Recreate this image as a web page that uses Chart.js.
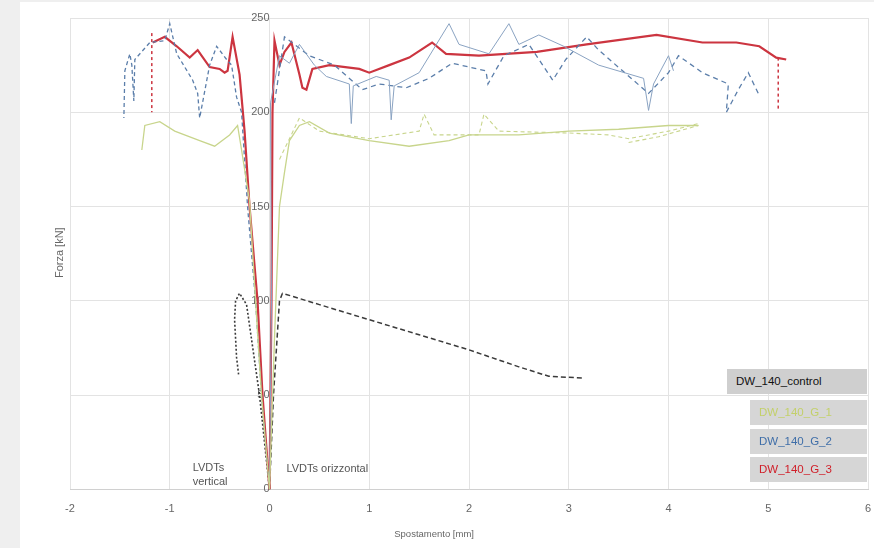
<!DOCTYPE html>
<html><head><meta charset="utf-8">
<script src="https://cdn.jsdelivr.net/npm/chart.js@4/dist/chart.umd.min.js"></script>
<style>
html,body{margin:0;padding:0;background:#efefef;width:874px;height:548px;overflow:hidden;font-family:"Liberation Sans",Arial,sans-serif}
#panel{position:absolute;left:20px;top:2px;width:854px;height:546px;background:#fff}
#c{position:absolute;left:0;top:0}
.lg{position:absolute;height:25px;line-height:25px;font-size:11.5px;background:#d6d6d6;padding-left:9px;box-sizing:border-box}
</style></head><body>
<div id="panel"></div>
<canvas id="c" width="874" height="548"></canvas>
<div class="lg" style="left:727px;top:369px;width:140px;color:#111;background:#cfcfcf">DW_140_control</div>
<div class="lg" style="left:750px;top:400px;width:117px;color:#c3d06a">DW_140_G_1</div>
<div class="lg" style="left:750px;top:429px;width:117px;color:#3f6ea8">DW_140_G_2</div>
<div class="lg" style="left:750px;top:457px;width:117px;color:#d0202a">DW_140_G_3</div>
<script>
// Tick values
const xTicks = [-2,-1,0,1,2,3,4,5,6];
const yTicks = [0,50,100,150,200,250];
const seriesNames = ['DW_140_control','DW_140_G_1','DW_140_G_2','DW_140_G_3'];
const xTitle = 'Spostamento [mm]';
const yTitle = 'Forza [kN]';

// DW_140_control (black) [displacement mm, force kN]
const controlRight = [[0,0],[0.04,50],[0.1,100],[0.13,104],[0.5,98],[1.0,90],[1.5,82],[2.0,74],[2.5,65],[2.8,60],[3.15,59]];
const controlLeft = [[0,0],[-0.1,50],[-0.23,98],[-0.3,104],[-0.34,100],[-0.35,90],[-0.33,70],[-0.31,61]];

// DW_140_G_1 (green)
const g1Right = [[0,0],[0.05,80],[0.1,150],[0.15,168],[0.2,185],[0.3,193],[0.4,195],[0.6,189],[1.0,185],[1.4,182],[1.8,185],[2.0,188],[2.5,188],[3.0,190],[3.5,191],[4.0,193],[4.3,193]];
const g1RightB = [[0.1,175],[0.3,197],[0.5,190],[1.0,186],[1.5,190],[1.55,199],[1.65,188],[2.1,188],[2.15,199],[2.3,190],[3.0,189],[3.4,188],[3.6,186],[4.0,190],[4.3,194]];
const g1RightC = [[3.6,184],[3.9,187],[4.3,193]];
const g1Left = [[0,0],[-0.08,50],[-0.14,100],[-0.2,153],[-0.28,180],[-0.32,193],[-0.4,188],[-0.55,182],[-0.7,185],[-0.95,190],[-1.1,195],[-1.25,193],[-1.28,180]];

// DW_140_G_2 (blue)
const g2Right = [[0,0],[0.02,100],[0.01,205],[0.1,230],[0.2,226],[0.3,236],[0.45,225],[0.57,219],[0.8,215],[0.82,194],[0.84,214],[1.07,219],[1.2,217],[1.22,196],[1.25,214],[1.5,221],[1.8,247],[1.9,236],[2.2,231],[2.4,247],[2.5,236],[2.7,241],[2.95,235],[3.3,225],[3.75,218],[3.8,201],[3.85,215],[4.0,230],[4.05,222]];
const g2RightB = [[0.05,205],[0.15,240],[0.4,230],[0.65,225],[0.93,212],[1.1,215],[1.37,213],[1.6,218],[1.83,226],[2.0,224],[2.17,222],[2.19,215],[2.35,230],[2.6,236],[2.84,217],[2.97,228],[3.18,240],[3.3,233],[3.8,210],[4.0,221],[4.1,230],[4.34,221],[4.6,215],[4.58,200],[4.7,212],[4.8,221],[4.9,210]];
const g2Left = [[0,0],[-0.08,50],[-0.14,100],[-0.22,150],[-0.28,200],[-0.33,208],[-0.38,225],[-0.43,228],[-0.53,235],[-0.6,225],[-0.7,197],[-0.72,210],[-0.77,217],[-0.93,231],[-1.0,247],[-1.05,238],[-1.2,237],[-1.35,228],[-1.36,206],[-1.38,225],[-1.4,231],[-1.45,222],[-1.46,197]];

// DW_140_G_3 (red)
const g3Right = [[0,0],[0.02,100],[0.03,200],[0.05,238],[0.1,225],[0.15,232],[0.22,237],[0.3,220],[0.33,213],[0.37,212],[0.43,223],[0.6,225],[0.9,223],[1.0,221],[1.2,225],[1.4,229],[1.63,237],[1.77,231],[2.1,230],[2.68,232],[3.18,236],[3.88,241],[4.34,237],[4.68,237],[4.91,235],[5.08,229],[5.18,228]];
const g3RightDrop = [[5.1,229],[5.1,201]];
const g3Left = [[0,0],[-0.07,50],[-0.12,100],[-0.2,150],[-0.25,190],[-0.3,220],[-0.37,240],[-0.42,222],[-0.45,221],[-0.5,223],[-0.6,224],[-0.72,233],[-0.8,229],[-0.93,235],[-1.05,240],[-1.17,237]];
const g3LeftDrop = [[-1.18,242],[-1.18,200]];

const annotations = [
  {text:['LVDTs','vertical'], x:-0.77, y:3.7},
  {text:['LVDTs orizzontal'], x:0.17, y:11}
];

const C = {ctrl:'#3a3a3a', g1:'#c8d58c', g2:'#5b7eaa', g2b:'#8aa3c2', g3:'#cc3540'};
const pts = a => a.map(p => ({x:p[0], y:p[1]}));
function ds(data, color, w, dash){
  return {data: pts(data), borderColor: color, borderWidth: w, borderDash: dash||[], showLine:true, pointRadius:0, fill:false, tension:0};
}

const datasets = [
  ds(g1Right, C.g1, 1.3), ds(g1RightB, C.g1, 1.1, [4,3]), ds(g1RightC, C.g1, 1.1, [4,3]), ds(g1Left, C.g1, 1.3),
  ds(g2Right, C.g2b, 1.0), ds(g2RightB, C.g2, 1.3, [5,4]), ds(g2Left, C.g2, 1.3, [4,3]),
  ds(g3Right, C.g3, 2.2), ds(g3RightDrop, C.g3, 1.5, [3,3]), ds(g3Left, C.g3, 2.2), ds(g3LeftDrop, C.g3, 1.5, [3,3]),
  ds(controlRight, C.ctrl, 1.5, [5,3]), ds(controlLeft, C.ctrl, 1.6, [2,2])
];

const extras = {
  id:'extras',
  afterDraw(chart){
    const ctx = chart.ctx, xs = chart.scales.x, ys = chart.scales.y;
    ctx.save();
    ctx.fillStyle = '#555';
    ctx.font = '11px "Liberation Sans", Arial, sans-serif';
    ctx.textAlign = 'left'; ctx.textBaseline = 'middle';
    annotations.forEach(a => {
      const px = xs.getPixelForValue(a.x), py = ys.getPixelForValue(a.y);
      a.text.forEach((t,i) => ctx.fillText(t, px, py - (a.text.length-1-i)*14 ));
    });
    // x-axis title (offset left of centre as in the original)
    ctx.fillStyle = '#666';
    ctx.textAlign = 'center';
    ctx.font = '9.5px "Liberation Sans", Arial, sans-serif';
    ctx.fillText(xTitle, xs.getPixelForValue(1.65), ys.bottom + 45);
    // y-axis title
    ctx.translate(60, (ys.top + ys.bottom)/2 - 1);
    ctx.rotate(-Math.PI/2);
    ctx.font = '11px "Liberation Sans", Arial, sans-serif';
    ctx.fillText(yTitle, 0, 0);
    ctx.restore();
  }
};

new Chart(document.getElementById('c'), {
  type:'scatter',
  data:{datasets},
  options:{
    responsive:false, animation:false,
    layout:{padding:{left:70, right:6, top:18, bottom:19.4}},
    plugins:{legend:{display:false}, tooltip:{enabled:false}},
    scales:{
      x:{type:'linear', min:xTicks[0], max:xTicks[xTicks.length-1],
        afterBuildTicks: s => { s.ticks = xTicks.map(v => ({value:v})); },
        afterFit: s => { s.paddingRight = 3; s.paddingLeft = 3; },
        ticks:{color:'#666', font:{size:11, family:'"Liberation Sans", Arial'}, padding:13},
        grid:{color:'#e3e3e3', drawTicks:false},
        border:{color:'#d0d0d0'},
        title:{display:false}
      },
      y:{type:'linear', min:0, max:250, position:{x:0},
        afterBuildTicks: s => { s.ticks = yTicks.map(v => ({value:v})); },
        afterFit: s => { s.width = 0; },
        ticks:{color:'#666', font:{size:11, family:'"Liberation Sans", Arial'}, padding:3},
        grid:{color:'#e3e3e3', drawTicks:false},
        border:{display:false}
      }
    }
  },
  plugins:[extras]
});
</script>
</body></html>
